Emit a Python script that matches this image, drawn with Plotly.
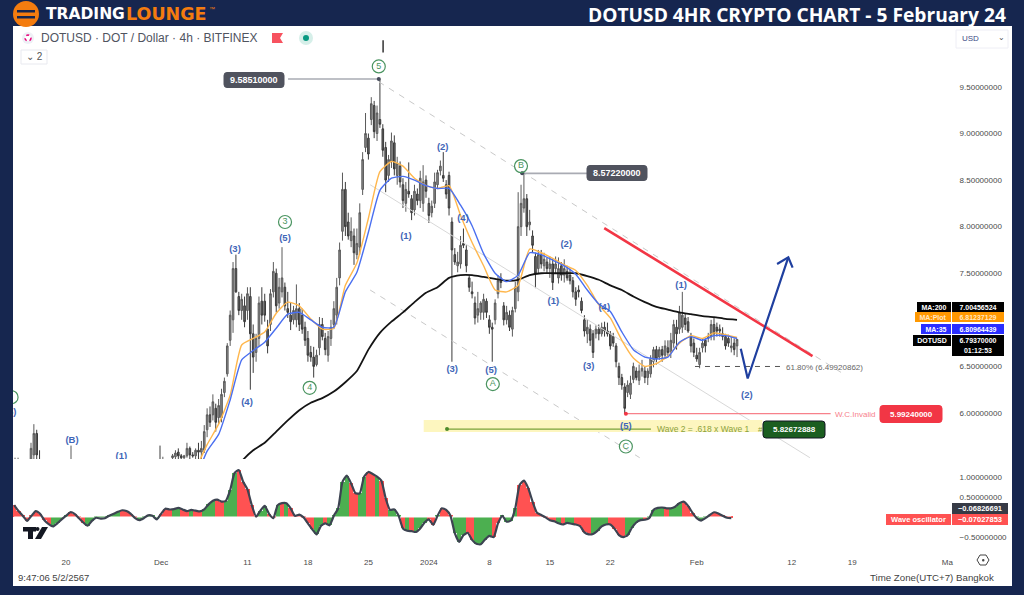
import pandas as pd
import plotly.graph_objects as go
from plotly.subplots import make_subplots

# ---------- data ----------
symbol_title = "DOTUSD · DOT / Dollar · 4h · BITFINEX"
chart_title = "DOTUSD 4HR CRYPTO CHART - 5 February 24"
base_day = "2023-11-20"
first_bar = "2023-12-02 08:00"
price_ticks = [6.0, 6.5, 7.5, 8.0, 8.5, 9.0, 9.5]
osc_ticks = [-0.5, 0.5, 1.0]
time_tick_days = [0, 11, 21, 28, 35, 42, 49, 56, 63, 73, 84, 91, 102]
time_tick_text = ["20", "Dec", "11", "18", "25", "2024", "8", "15", "22", "Feb", "12", "19", "Ma"]

early_days = [-5.9, -5.55, -4.05, -3.72, -3.39, -3.06, 0.58, 10.88, 11.21]
early_high = [5.52, 5.52, 5.68, 5.88, 5.82, 5.60, 5.65, 5.65, 5.53]
early_low = [5.40, 5.40, 5.42, 5.40, 5.40, 5.40, 5.40, 5.42, 5.42]
early_open = [5.45, 5.45, 5.50, 5.55, 5.78, 5.50, 5.45, 5.50, 5.45]
early_close = [5.50, 5.50, 5.62, 5.78, 5.55, 5.45, 5.50, 5.48, 5.50]

highs = [5.56,5.60,5.62,5.56,5.55,5.68,5.64,5.58,5.62,5.68,5.70,
 5.87,6.05,6.07,6.20,6.10,6.15,6.26,6.38,6.75,7.10,
 7.62,7.70,7.30,7.28,7.25,7.35,7.35,6.95,6.85,7.25,
 7.35,7.28,7.00,7.33,7.62,7.55,7.45,7.78,7.40,7.30,
 7.18,7.15,7.38,7.18,7.12,6.98,6.88,6.72,6.71,6.68,
 7.03,7.02,6.86,6.88,7.00,7.20,7.45,7.83,8.58,8.48,
 8.15,8.10,7.98,7.98,8.25,8.80,9.22,9.00,9.39,9.35,
 9.30,9.59,9.10,8.91,8.77,9.01,8.98,8.75,8.70,8.52,
 8.48,8.69,8.34,8.45,8.41,8.60,8.66,8.55,8.31,8.28,
 8.58,8.61,8.71,8.80,8.50,8.59,8.10,7.77,7.73,7.90,
 7.98,7.80,7.48,7.41,7.25,7.30,7.20,7.28,7.23,7.05,
 6.97,7.22,7.48,7.50,7.19,7.15,7.10,7.14,7.41,8.37,
 8.45,8.59,8.35,8.18,7.96,7.72,7.75,7.75,7.72,7.67,
 7.68,7.66,7.68,7.67,7.62,7.65,7.58,7.55,7.46,7.35,
 7.37,7.24,7.05,7.00,6.95,6.89,6.94,6.95,6.97,6.98,
 6.97,6.88,6.86,6.75,6.54,6.42,6.32,6.35,6.40,6.54,
 6.49,6.52,6.57,6.50,6.48,6.62,6.71,6.72,6.71,6.72,
 6.78,6.78,6.86,7.00,7.00,7.15,7.30,7.07,7.03,6.86,
 6.80,6.70,6.70,6.80,6.80,6.86,7.00,7.03,6.97,6.95,
 6.92,6.85,6.84,6.82,6.80,6.78]
lows = [5.50,5.50,5.50,5.50,5.50,5.52,5.50,5.52,5.50,5.50,5.50,
 5.57,5.74,5.85,5.92,5.80,5.88,5.90,6.17,6.39,6.72,
 6.86,7.29,7.05,7.00,6.92,7.00,6.25,6.43,6.55,6.72,
 6.95,6.98,6.64,6.88,7.24,7.08,7.12,7.24,7.10,7.02,
 6.89,6.95,6.92,6.88,6.85,6.72,6.55,6.55,6.38,6.50,
 6.62,6.78,6.62,6.55,6.72,6.90,6.95,7.37,7.85,7.90,
 7.86,7.78,7.59,7.65,7.70,8.34,8.80,8.72,9.09,8.95,
 8.92,9.06,8.75,8.37,8.48,8.63,8.55,8.45,8.42,8.20,
 8.16,8.31,8.07,8.12,8.23,8.20,8.16,8.31,8.04,8.10,
 8.20,8.41,8.55,8.48,8.30,8.12,6.55,7.59,7.51,7.55,
 7.77,7.51,7.30,7.23,6.95,6.97,7.00,7.00,7.02,6.85,
 6.55,6.95,7.23,7.34,6.94,6.95,6.88,6.82,7.08,7.20,
 7.90,8.15,7.90,7.96,7.72,7.34,7.50,7.55,7.52,7.50,
 7.45,7.32,7.50,7.39,7.42,7.40,7.42,7.38,7.24,7.15,
 7.24,7.07,6.82,6.75,6.72,6.59,6.80,6.78,6.82,6.82,
 6.82,6.68,6.71,6.49,6.30,6.25,5.99,6.17,6.15,6.32,
 6.35,6.30,6.39,6.32,6.30,6.38,6.49,6.52,6.57,6.55,
 6.58,6.60,6.59,6.70,6.68,6.85,6.86,6.89,6.86,6.65,
 6.60,6.55,6.48,6.65,6.65,6.76,6.78,6.78,6.82,6.82,
 6.78,6.68,6.71,6.65,6.62,6.60]
opens = [5.52,5.53,5.58,5.54,5.52,5.54,5.62,5.55,5.54,5.60,5.58,
 5.60,5.82,5.98,5.98,6.05,5.95,5.95,6.22,6.42,6.78,
 7.00,7.55,7.25,7.10,7.15,7.10,7.25,6.85,6.65,6.80,
 7.20,7.20,6.90,6.95,7.30,7.50,7.18,7.30,7.35,7.12,
 7.05,7.00,7.00,7.12,7.05,6.92,6.80,6.65,6.60,6.52,
 6.70,6.95,6.80,6.62,6.80,6.95,7.05,7.45,7.95,8.40,
 8.05,7.85,7.90,7.70,7.78,8.40,8.85,8.95,9.15,9.30,
 9.00,9.15,9.05,8.85,8.55,8.70,8.90,8.55,8.65,8.45,
 8.25,8.38,8.30,8.18,8.35,8.28,8.25,8.50,8.25,8.15,
 8.25,8.45,8.60,8.55,8.45,8.55,8.05,7.70,7.58,7.60,
 7.82,7.75,7.45,7.30,7.18,7.05,7.08,7.08,7.20,7.00,
 6.92,7.00,7.28,7.45,7.15,7.00,7.05,6.90,7.12,7.30,
 8.00,8.20,8.30,8.02,7.90,7.68,7.55,7.70,7.58,7.62,
 7.55,7.60,7.55,7.45,7.58,7.48,7.52,7.48,7.42,7.30,
 7.32,7.20,7.00,6.85,6.90,6.85,6.85,6.90,6.85,6.92,
 6.88,6.85,6.82,6.72,6.50,6.38,6.28,6.22,6.20,6.36,
 6.45,6.35,6.45,6.45,6.38,6.42,6.55,6.68,6.60,6.68,
 6.62,6.70,6.65,6.75,6.92,6.90,6.92,7.02,6.98,6.82,
 6.75,6.62,6.52,6.70,6.78,6.80,6.82,6.95,6.92,6.90,
 6.85,6.82,6.80,6.70,6.75,6.72]
closes = [5.54,5.57,5.54,5.52,5.54,5.62,5.55,5.54,5.60,5.58,5.62,
 5.80,5.98,5.90,6.12,5.90,6.08,6.20,6.34,6.72,7.05,
 7.55,7.30,7.10,7.22,6.98,7.28,6.85,6.60,6.80,7.18,
 7.05,7.05,6.72,7.28,7.52,7.15,7.35,7.45,7.15,7.08,
 6.98,7.10,7.12,6.95,6.90,6.78,6.62,6.60,6.50,6.62,
 6.95,6.82,6.68,6.82,6.92,7.12,7.35,7.75,8.40,8.00,
 7.90,7.95,7.72,7.82,8.15,8.72,9.00,8.78,9.32,9.02,
 9.22,9.10,8.82,8.50,8.72,8.92,8.62,8.68,8.48,8.28,
 8.40,8.35,8.15,8.38,8.28,8.52,8.48,8.38,8.12,8.22,
 8.48,8.58,8.65,8.52,8.35,8.20,7.75,7.62,7.62,7.80,
 7.80,7.58,7.35,7.28,7.02,7.12,7.18,7.22,7.08,6.92,
 6.90,7.18,7.42,7.40,7.00,7.08,6.92,7.10,7.35,8.00,
 8.25,8.30,8.00,8.05,7.80,7.50,7.70,7.60,7.65,7.55,
 7.60,7.40,7.60,7.55,7.48,7.55,7.45,7.42,7.30,7.22,
 7.30,7.10,6.88,6.92,6.78,6.65,6.90,6.85,6.92,6.88,
 6.85,6.72,6.75,6.55,6.38,6.30,6.05,6.30,6.32,6.50,
 6.38,6.45,6.48,6.38,6.45,6.58,6.68,6.58,6.68,6.62,
 6.72,6.65,6.78,6.95,6.85,7.08,7.05,6.95,6.88,6.72,
 6.65,6.58,6.65,6.75,6.72,6.82,6.95,6.85,6.88,6.88,
 6.82,6.72,6.75,6.72,6.68,6.79]

# moving averages, one value per four bars, starting with the first regular bar
ma200 = [5.0,5.0,5.1,5.2,5.25,5.3,5.48,5.60,5.68,5.80,5.92,6.03,6.11,6.16,6.23,6.33,6.45,6.68,6.86,6.98,
 7.08,7.19,7.29,7.35,7.45,7.48,7.48,7.46,7.44,7.42,7.43,7.48,7.50,7.50,7.50,7.50,7.47,7.43,7.37,7.32,
 7.25,7.19,7.14,7.11,7.08,7.06,7.04,7.03,7.01,7.00]
ma_plot = [5.0,5.2,5.4,5.66,5.88,6.19,6.73,6.80,6.87,7.07,7.19,7.15,7.01,6.90,6.91,7.37,7.61,8.09,8.59,8.70,
 8.65,8.52,8.44,8.41,8.44,8.12,7.83,7.58,7.32,7.30,7.37,7.76,7.72,7.66,7.59,7.53,7.37,7.16,7.02,6.78,
 6.59,6.50,6.53,6.61,6.75,6.83,6.80,6.86,6.84,6.81]
ma35 = [4.9,5.1,5.3,5.59,5.77,6.14,6.57,6.67,6.76,6.91,7.06,7.08,7.00,6.92,6.92,7.30,7.51,7.94,8.39,8.52,
 8.54,8.50,8.44,8.41,8.41,8.23,8.01,7.71,7.50,7.41,7.48,7.72,7.70,7.64,7.58,7.49,7.32,7.17,7.09,6.87,
 6.68,6.60,6.58,6.60,6.76,6.82,6.78,6.83,6.83,6.80]

# oscillator, one value per 12 hours from 14 Nov
osc_start = "2023-11-14"
osc_values = [0.30,0.15,0.03,-0.10,0.03,0.15,0.08,-0.08,-0.18,-0.24,-0.16,-0.06,0.03,0.12,0.08,-0.03,-0.14,-0.22,-0.10,-0.02,
 -0.04,-0.03,0.03,0.08,0.13,0.17,0.15,0.08,-0.03,-0.08,-0.03,0.04,0.03,-0.06,0.08,0.21,0.19,0.20,0.23,0.19,
 0.15,0.18,0.16,0.14,0.19,0.32,0.41,0.44,0.39,0.41,0.68,1.11,1.19,0.89,0.70,0.30,0.01,0.16,0.28,0.08,
 -0.03,0.30,0.35,0.35,0.22,0.03,0.06,-0.01,-0.16,-0.31,-0.44,-0.23,-0.16,-0.21,0.03,0.22,0.89,1.05,0.85,0.60,
 0.60,1.02,1.14,1.09,1.02,0.92,0.47,0.18,0.19,0.03,-0.29,-0.35,-0.36,-0.38,-0.29,-0.14,-0.06,-0.20,0.03,0.22,
 0.18,0.03,-0.41,-0.63,-0.46,-0.40,-0.58,-0.68,-0.69,-0.57,-0.48,-0.51,-0.16,0.03,-0.12,
 -0.09,0.22,0.81,0.92,0.73,0.39,0.11,0.05,-0.01,-0.08,-0.11,-0.16,-0.19,-0.15,-0.17,-0.19,-0.23,-0.39,-0.44,-0.43,
 -0.35,-0.24,-0.19,-0.19,-0.30,-0.46,-0.51,-0.46,-0.27,-0.14,-0.08,-0.07,-0.03,0.18,0.23,0.24,0.22,0.22,0.26,0.35,
 0.39,0.28,0.11,-0.03,-0.09,-0.03,0.05,0.12,0.09,0.03,-0.02,-0.03]
osc_sign = ("R"*9+"G"*4+"R"*4+"G"*8+"R"*4+"G"*5+"R"*3+"G"*2+"R"*2+"G"+"R"*2+"G"*3+"R"*2+"G"*3+"R"*5+"G"*2+"R"*2
 +"G"+"R"+"G"+"R"*6+"G"*2+"R"+"G"*5+"R"*2+"G"*2+"R"*2+"G"+"R"*2+"G"*3+"R"+"G"+"R"+"G"*3+"R"*2+"G"+"R"*3+"G"*3
 +"R"*2+"G"*4+"R"*2+"G"*2
 +"G"*2+"R"*9+"G"+"R"+"G"*2+"R"*4+"G"*4+"R"*4+"G"*4+"R"+"G"*4+"R"+"G"*3+"R"*3+"G"*3+"R"*6)

# wave counts: day offset from 20 Nov, price, text
blue_days = [19.56,25.35,20.95,39.35,43.6,45.95,44.7,49.2,57.9,56.4,60.5,62.3,64.8,71.2,78.8,0.7,6.4,-6.4]
blue_prices = [7.75,7.87,6.11,7.89,8.85,8.09,6.47,6.46,7.81,7.19,6.50,7.13,5.85,7.37,6.19,5.70,5.53,6.0]
blue_text = ["(3)","(5)","(4)","(1)","(2)","(4)","(3)","(5)","(2)","(1)","(3)","(4)","(5)","(1)","(2)","(B)","(1)","(5)"]
green_days = [36.2,25.35,28.2,49.4,52.66,64.8,-6.3]
green_prices = [9.72,8.05,6.27,6.31,8.65,5.64,6.17]
green_text = ["5","3","4","A","B","C",""]

wave5_price = 9.5851
waveB_price = 8.5722
fib_price = 6.49920862
invalid_price = 5.9924
target_price = 5.82672888

# ---------- layout constants ----------
W, H = 1024, 595
L, R, T, B, SPLIT = 13, 950, 26, 548, 459
NAVY = "#16264f"
FONT = "Liberation Sans"


def day(d):
    return (pd.Timestamp(base_day) + pd.Timedelta(days=d)).strftime("%Y-%m-%d %H:%M:%S")


def xp(px):
    return (px - L) / (R - L)


def yp(py):
    return (B - py) / (B - T)


bar_times = pd.date_range(first_bar, periods=len(highs), freq="8h")
all_x = [day(d) for d in early_days] + [t.strftime("%Y-%m-%d %H:%M:%S") for t in bar_times]
ma_x = [t.strftime("%Y-%m-%d %H:%M:%S") for t in bar_times[::4]]
osc_x = pd.date_range(osc_start, periods=len(osc_values), freq="12h")
assert len(osc_values) == len(osc_sign), (len(osc_values), len(osc_sign))

fig = make_subplots(rows=2, cols=1, shared_xaxes=True, vertical_spacing=0,
                    row_heights=[(SPLIT - T) / (B - T), (B - SPLIT) / (B - T)])


def line(days, prices, color, width=1, dash="solid"):
    fig.add_trace(go.Scatter(x=[day(d) for d in days], y=prices, mode="lines", hoverinfo="skip",
                             line=dict(color=color, width=width, dash=dash)), row=1, col=1)


# channel lines
line([36.2, 89.8], [9.555, 6.43], "#c9c9c9", 1, "6px,6px")
line([35.2, 86.1], [8.45, 5.52], "#d8d8d8", 1)
line([35.2, 66.4], [7.32, 5.52], "#c9c9c9", 1, "6px,6px")
# yellow target band and levels
fig.add_trace(go.Scatter(x=[day(41.4), day(80.6), day(80.6), day(41.4), day(41.4)],
                         y=[5.925, 5.925, 5.796, 5.796, 5.925], mode="lines", fill="toself",
                         fillcolor="#fdf6bf", line=dict(width=0), hoverinfo="skip"), row=1, col=1)
line([44.1, 67.7], [target_price, target_price], "#7aa23a", 1.2)
fig.add_trace(go.Scatter(x=[day(44.1)], y=[target_price], mode="markers", hoverinfo="skip",
                         marker=dict(color="#4c8a2a", size=4)), row=1, col=1)

# candles
fig.add_trace(go.Candlestick(x=all_x, open=early_open + opens, high=early_high + highs,
                             low=early_low + lows, close=early_close + closes,
                             increasing=dict(line=dict(color="#5a5a5a", width=1), fillcolor="#8a8a8a"),
                             decreasing=dict(line=dict(color="#3a3a3a", width=1), fillcolor="#666666"),
                             hoverinfo="skip", showlegend=False), row=1, col=1)

# moving averages
for vals, col, wid in [(ma200, "#141414", 1.8), (ma_plot, "#ffb74d", 1.4), (ma35, "#4a6ff0", 1.4)]:
    fig.add_trace(go.Scatter(x=ma_x, y=vals, mode="lines", hoverinfo="skip",
                             line=dict(color=col, width=wid, shape="spline", smoothing=0.5)), row=1, col=1)

# levels and forecast
line([25.7, 36.2], [wave5_price, wave5_price], "#a9abb3", 1.6)
line([52.8, 60.4], [waveB_price, waveB_price], "#a9abb3", 1.6)
line([72.8, 82.9], [fib_price, fib_price], "#555555", 1, "5px,5px")
line([64.9, 88.5], [invalid_price, invalid_price], "#f7818b", 1.2)
line([62.3, 86.4], [7.985, 6.61], "#f23645", 2.6)
line([78.1, 78.9, 83.6], [6.69, 6.37, 7.67], "#1f3f9f", 2.2)
line([82.3, 83.6, 84.1], [7.60, 7.67, 7.56], "#1f3f9f", 2.2)
line([36.7, 36.7], [9.87, 10.0], "#333333", 1.5)
fig.add_trace(go.Scatter(x=[day(36.2), day(52.8), day(64.8)], y=[wave5_price, waveB_price, invalid_price],
                         mode="markers", hoverinfo="skip",
                         marker=dict(color=["#444a5a", "#444a5a", "#f23645"], size=4)), row=1, col=1)

# wave labels
fig.add_trace(go.Scatter(x=[day(d) for d in blue_days], y=blue_prices,
                         text=[f"<b>{t}</b>" for t in blue_text], mode="text",
                         textposition="middle center", hoverinfo="skip",
                         textfont=dict(family=FONT, size=9.5, color="#3f66b8")), row=1, col=1)
fig.add_trace(go.Scatter(x=[day(d) for d in green_days], y=green_prices, text=green_text,
                         mode="markers+text", textposition="middle center", hoverinfo="skip",
                         marker=dict(symbol="circle-open", size=13, color="#4a9460", line=dict(width=1.2)),
                         textfont=dict(family=FONT, size=9, color="#4a9460")), row=1, col=1)

# oscillator
fig.add_trace(go.Bar(x=osc_x, y=osc_values, width=12 * 3600 * 1000, hoverinfo="skip",
                     marker=dict(color=["#4caf50" if s == "G" else "#ff5252" for s in osc_sign], line=dict(width=0))),
              row=2, col=1)
fig.add_trace(go.Scatter(x=[osc_x[0], osc_x[-1]], y=[0, 0], mode="lines", hoverinfo="skip",
                         line=dict(color="#ffffff", width=1)), row=2, col=1)
fig.add_trace(go.Scatter(x=osc_x, y=osc_values, mode="lines", hoverinfo="skip",
                         line=dict(color="#3d4452", width=2.2, shape="spline", smoothing=0.5)), row=2, col=1)

shapes = [
    dict(type="rect", xref="paper", yref="paper", x0=xp(13), x1=xp(1012), y0=yp(26), y1=yp(586),
         fillcolor="#ffffff", line_width=0, layer="below"),
    dict(type="circle", xref="paper", yref="paper", x0=xp(13), x1=xp(39), y0=yp(1), y1=yp(27),
         fillcolor="#f47c0f", line_width=0),
    dict(type="rect", xref="paper", yref="paper", x0=xp(17), x1=xp(35), y0=yp(10), y1=yp(12.5),
         fillcolor=NAVY, line_width=0),
    dict(type="rect", xref="paper", yref="paper", x0=xp(17), x1=xp(35), y0=yp(16), y1=yp(18.5),
         fillcolor=NAVY, line_width=0),
    # TradingView mark
    dict(type="rect", xref="paper", yref="paper", x0=xp(23), x1=xp(36), y0=yp(527), y1=yp(531.5),
         fillcolor="#131722", line_width=0),
    dict(type="rect", xref="paper", yref="paper", x0=xp(28), x1=xp(33), y0=yp(527), y1=yp(539),
         fillcolor="#131722", line_width=0),
    dict(type="circle", xref="paper", yref="paper", x0=xp(35.5), x1=xp(39.5), y0=yp(527), y1=yp(531),
         fillcolor="#131722", line_width=0),
    dict(type="path", xref="paper", yref="paper", fillcolor="#131722", line_width=0,
         path=f"M {xp(42)} {yp(527)} L {xp(48)} {yp(527)} L {xp(41)} {yp(539)} L {xp(35)} {yp(539)} Z"),
    # symbol icons
    dict(type="circle", xref="paper", yref="paper", x0=xp(22), x1=xp(34), y0=yp(32), y1=yp(44),
         fillcolor="#eef0f6", line_width=0),
    dict(type="circle", xref="paper", yref="paper", x0=xp(25), x1=xp(31), y0=yp(35), y1=yp(41),
         fillcolor="#ffffff", line=dict(color="#e6007a", width=1.5, dash="dot")),
    dict(type="path", xref="paper", yref="paper", fillcolor="#f7525f", line_width=0,
         path=f"M {xp(272)} {yp(33)} L {xp(283)} {yp(33)} L {xp(280)} {yp(38)} L {xp(283)} {yp(43)} L {xp(272)} {yp(43)} Z"),
    dict(type="circle", xref="paper", yref="paper", x0=xp(299), x1=xp(313), y0=yp(31), y1=yp(45),
         fillcolor="#d6efe9", line_width=0),
    dict(type="circle", xref="paper", yref="paper", x0=xp(303), x1=xp(309), y0=yp(35), y1=yp(41),
         fillcolor="#089981", line_width=0),
    dict(type="rect", xref="paper", yref="paper", x0=xp(21), x1=xp(47), y0=yp(50), y1=yp(64),
         fillcolor="#ffffff", line=dict(color="#e8e9ef", width=1)),
    dict(type="rect", xref="paper", yref="paper", x0=xp(956), x1=xp(1008), y0=yp(30), y1=yp(48),
         fillcolor="#ffffff", line=dict(color="#eeeef5", width=1)),
    # settings icon
    dict(type="path", xref="paper", yref="paper", line=dict(color="#444444", width=1), fillcolor="rgba(0,0,0,0)",
         path=f"M {xp(977)} {yp(560)} L {xp(980)} {yp(555)} L {xp(986)} {yp(555)} L {xp(989)} {yp(560)} L {xp(986)} {yp(565)} L {xp(980)} {yp(565)} Z"),
    dict(type="circle", xref="paper", yref="paper", x0=xp(982), x1=xp(984.5), y0=yp(559), y1=yp(561.5),
         fillcolor="#444444", line_width=0),
]

ann = []


def text(px, py, s, size=8, color="#444444", anchor="center", bold=False, family=FONT):
    ann.append(dict(xref="paper", yref="paper", x=xp(px), y=yp(py), text=f"<b>{s}</b>" if bold else s, showarrow=False,
                    xanchor=anchor, yanchor="middle", font=dict(family=family, size=size, color=color)))


def box(cx, cy, w, h, s, bg, fg="#ffffff", size=8, bold=True):
    ann.append(dict(xref="paper", yref="paper", x=xp(cx), y=yp(cy), text=f"<b>{s}</b>" if bold else s, showarrow=False,
                    xanchor="center", yanchor="middle", width=w, height=h, borderpad=0, borderwidth=0,
                    bgcolor=bg, font=dict(family=FONT, size=size, color=fg)))


def rbox(cx, cy, w, h, s, bg, fg="#ffffff", size=8, border=None, r=3):
    x0, x1, y0, y1 = cx - w / 2, cx + w / 2, cy - h / 2, cy + h / 2
    path = (f"M {xp(x0 + r)} {yp(y0)} L {xp(x1 - r)} {yp(y0)} Q {xp(x1)} {yp(y0)} {xp(x1)} {yp(y0 + r)} "
            f"L {xp(x1)} {yp(y1 - r)} Q {xp(x1)} {yp(y1)} {xp(x1 - r)} {yp(y1)} L {xp(x0 + r)} {yp(y1)} "
            f"Q {xp(x0)} {yp(y1)} {xp(x0)} {yp(y1 - r)} L {xp(x0)} {yp(y0 + r)} Q {xp(x0)} {yp(y0)} {xp(x0 + r)} {yp(y0)} Z")
    shapes.append(dict(type="path", xref="paper", yref="paper", path=path, fillcolor=bg,
                       line=dict(color=border or bg, width=1)))
    text(cx, cy, s, size, fg, "center", True)


# header
text(44, 14, "TRADING", 15.5, "#ffffff", "left", True, "DejaVu Sans")
text(124, 14, "LOUNGE", 17.5, "#f47c0f", "left", True, "DejaVu Sans")
text(212, 9, "™", 6, "#f47c0f", "center")
text(1008, 14, chart_title, 19.2, "#ffffff", "right", True, "Open Sans")
text(39, 38, symbol_title, 12, "#50545f", "left")
text(34, 57, "⌄ 2", 10, "#555555")
text(960, 38.5, "USD", 8, "#3b4a86", "left")
text(1001, 38, "⌄", 8, "#555555")
# footer
text(16, 577, "9:47:06 5/2/2567", 9.5, "#3f3f3f", "left")
text(996, 577, "Time Zone(UTC+7) Bangkok", 9.7, "#3f3f3f", "right")
# chart notes
rbox(254, 80, 60, 15, f"{wave5_price:.8f}", "#50535e", size=9)
rbox(617, 173, 60, 15, f"{waveB_price:.8f}", "#50535e", size=9)
text(824, 367, f"61.80% ({fib_price:.8f})", 8, "#666666")
text(855, 414, "W.C.Invalid", 8, "#f7818b")
rbox(911, 414, 62, 17, f"{invalid_price:.8f}", "#f23645")
text(703, 429, "Wave 2 = .618 x Wave 1", 8.5, "#8ba13a")
text(760, 429, "#", 8, "#8ba13a")
rbox(794, 429.5, 62, 17, f"{target_price:.8f}", "#1b5e20", border="#131722")
# right side price labels
box(934, 306.5, 34, 10, "MA:200", "#000000", size=7)
box(933, 317.5, 36, 10, "MA:Plot", "#ff9800", "#ffe7c2", size=7)
box(936, 328.5, 30, 10, "MA:35", "#2a2eff", size=7)
box(932, 340, 38, 11, "DOTUSD", "#000000", size=7)
box(978, 306.5, 52, 10, "7.00456524", "#000000", size=7)
box(978, 317.5, 52, 10, "6.81237129", "#ff9800", "#ffe7c2", size=7)
box(978, 328.5, 52, 10, "6.80964439", "#2a2eff", size=7)
box(978, 345, 52, 21, "6.79370000<br>01:12:53", "#000000", size=7)
box(980, 508.5, 56, 11, "−0.06826691", "#363a45", size=7.5)
box(980, 519.5, 56, 11, "−0.07027853", "#ff5252", size=7.5)
box(918, 519.5, 65, 11, "Wave oscillator", "#ff5252", size=7.5)

fig.update_layout(width=W, height=H, autosize=False, margin=dict(l=L, r=W - R, t=T, b=H - B),
                  paper_bgcolor=NAVY, plot_bgcolor="#ffffff", showlegend=False, boxgap=0.2,
                  bargap=0, shapes=shapes, annotations=ann, font=dict(family=FONT, size=8, color="#444444"))
tick_font = dict(family=FONT, size=8, color="#4a4a4a")
x_range = [day((L - 66) / 8.64), day((R - 66) / 8.64)]
fig.update_xaxes(range=x_range, showgrid=False, zeroline=False, showline=False, rangeslider_visible=False,
                 ticks="", showticklabels=False, row=1, col=1)
fig.update_xaxes(range=x_range, showgrid=False, zeroline=False, showline=False, tickmode="array",
                 tickvals=[day(d) for d in time_tick_days], ticktext=time_tick_text, ticks="outside", ticklen=6,
                 tickcolor="rgba(0,0,0,0)", tickfont=tick_font, showticklabels=True, row=2, col=1)
fig.update_yaxes(range=[5.506, 10.154], side="right", showgrid=False, zeroline=False, showline=False,
                 tickmode="array", tickvals=price_ticks, ticktext=[f"{v:.8f}" for v in price_ticks],
                 ticks="outside", ticklen=7, tickcolor="rgba(0,0,0,0)", tickfont=tick_font, row=1, col=1)
fig.update_yaxes(range=[-0.785, 1.468], side="right", showgrid=False, zeroline=False, showline=False,
                 tickmode="array", tickvals=osc_ticks,
                 ticktext=["−0.50000000" if v < 0 else f"{v:.8f}" for v in osc_ticks],
                 ticks="outside", ticklen=7, tickcolor="rgba(0,0,0,0)", tickfont=tick_font, row=2, col=1)

fig.write_html("out.html", config=dict(displayModeBar=False),
               post_script="document.body.style.margin='0';document.body.style.overflow='hidden';")
